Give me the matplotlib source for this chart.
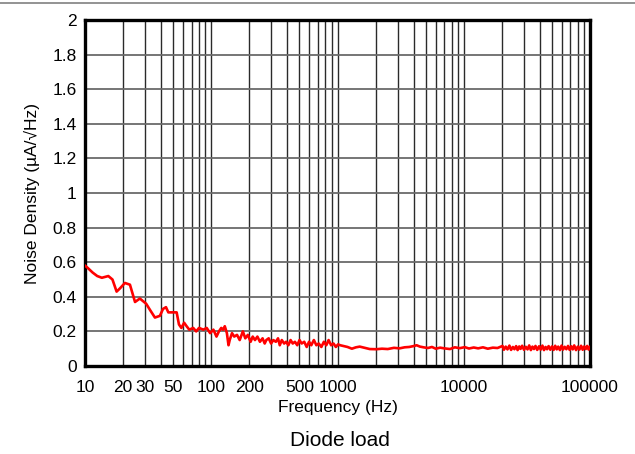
import numpy as np
import matplotlib
matplotlib.use("Agg")
import matplotlib.pyplot as plt
from matplotlib.lines import Line2D

plt.rcParams['font.family'] = ['Liberation Sans', 'DejaVu Sans']

# readings (Hz, uA/sqrt(Hz))
freq = [10, 10.4, 11.5, 12.5, 13.6, 15.3, 16.5, 17.8, 19.0, 20.7, 22.7, 24.9, 27.2, 30.5,
        33.0, 35.8, 39.2, 41.5, 43.8, 45.7, 50.0, 53.2, 55.5, 58.0, 61.0, 63.8, 67.0, 72.0,
        76.0, 80.0, 86.6, 92.0, 98.0, 104, 110, 115, 120, 124, 128, 133, 137, 140, 146,
        152, 160, 168, 178, 186, 195, 205, 213, 222, 232, 243, 255, 265, 273, 285, 298,
        310, 325, 338, 349, 362, 378, 392, 408, 425, 442, 460, 480, 500, 520, 545, 570,
        595, 620, 650, 680, 710, 745, 780, 815, 850, 890, 930, 970, 1010, 1050, 1120,
        1200, 1300, 1400, 1500, 1650, 1800, 2030, 2250, 2500, 2800, 3100, 3400, 3700,
        4000, 4230, 4500, 4800, 5200, 5600, 6000, 6500, 7000, 7770, 8500, 9300, 10200,
        11000, 12000, 13000, 14200, 15500, 17000, 18500, 20300, 20800, 21500, 22200,
        23000, 23700, 24500, 25200, 26000, 26700, 27500, 28200, 29000, 30000, 31000,
        32000, 33000, 34000, 35000, 36000, 37000, 38200, 39500, 40700, 42000, 43200,
        44500, 45700, 47000, 48500, 50000, 51500, 53000, 54500, 56000, 57800, 59500,
        61200, 63000, 65000, 67000, 69000, 71000, 73000, 75000, 77500, 80000, 82500,
        85000, 87500, 90000, 92500, 95000, 97500, 100000]
noise = [0.58, 0.57, 0.54, 0.52, 0.51, 0.52, 0.50, 0.43, 0.45, 0.48, 0.47, 0.37, 0.39, 0.36,
         0.32, 0.28, 0.29, 0.33, 0.34, 0.31, 0.31, 0.31, 0.24, 0.22, 0.25, 0.23, 0.21, 0.22,
         0.20, 0.22, 0.21, 0.22, 0.19, 0.21, 0.17, 0.20, 0.22, 0.21, 0.23, 0.19, 0.12, 0.15,
         0.19, 0.17, 0.18, 0.15, 0.20, 0.16, 0.18, 0.14, 0.17, 0.15, 0.17, 0.14, 0.16, 0.13,
         0.15, 0.16, 0.13, 0.15, 0.14, 0.16, 0.12, 0.15, 0.13, 0.14, 0.12, 0.15, 0.13, 0.14,
         0.12, 0.15, 0.13, 0.14, 0.11, 0.14, 0.12, 0.15, 0.12, 0.13, 0.11, 0.14, 0.12, 0.15,
         0.12, 0.13, 0.11, 0.125, 0.12, 0.115, 0.11, 0.10, 0.108, 0.112, 0.105, 0.098, 0.097,
         0.100, 0.098, 0.105, 0.102, 0.108, 0.110, 0.115, 0.120, 0.112, 0.108, 0.104, 0.110,
         0.100, 0.106, 0.102, 0.098, 0.108, 0.103, 0.109, 0.101, 0.107, 0.102, 0.108, 0.100,
         0.106, 0.104, 0.116, 0.094, 0.112, 0.096, 0.118, 0.093, 0.110, 0.097, 0.115, 0.092,
         0.113, 0.099, 0.117, 0.094, 0.111, 0.096, 0.119, 0.092, 0.112, 0.098, 0.116, 0.093,
         0.114, 0.095, 0.118, 0.092, 0.110, 0.097, 0.115, 0.094, 0.113, 0.093, 0.117, 0.096,
         0.112, 0.092, 0.118, 0.095, 0.111, 0.097, 0.116, 0.093, 0.114, 0.096, 0.119, 0.092,
         0.112, 0.095, 0.117, 0.094, 0.113, 0.098, 0.116, 0.095, 0.110]

xticks = [10, 20, 30, 50, 100, 200, 500, 1000, 10000, 100000]
xticklabels = ['10', '20', '30', '50', '100', '200', '500', '1000', '10000', '100000']
yticks = [0, 0.2, 0.4, 0.6, 0.8, 1, 1.2, 1.4, 1.6, 1.8, 2]
yticklabels = ['0', '0.2', '0.4', '0.6', '0.8', '1', '1.2', '1.4', '1.6', '1.8', '2']

fig = plt.figure(figsize=(6.35, 4.54), dpi=100)
ax = fig.add_axes([85 / 635, 88 / 454, 505 / 635, 346 / 454])

ax.plot(freq, noise, color='#ff0000', lw=1.9, zorder=3)

ax.set_xscale('log')
ax.set_xlim(10, 100000)
ax.set_ylim(0, 2)

# full log grid
grid_x = [m * 10 ** d for d in range(1, 5) for m in range(2, 10)] + [100, 1000, 10000]
for gx in grid_x:
    ax.axvline(gx, color='#2a2a2a', lw=1.0, zorder=1)
for gy in yticks[1:-1]:
    ax.axhline(gy, color='#6a6a6a', lw=1.3, zorder=1)

ax.set_xticks(xticks)
ax.set_xticklabels(xticklabels, fontsize=12.5)
ax.xaxis.set_minor_locator(matplotlib.ticker.NullLocator())
ax.set_yticks(yticks)
ax.set_yticklabels(yticklabels, fontsize=12.5)
ax.tick_params(axis='x', length=0, pad=10)
ax.tick_params(axis='y', length=0, pad=6)

for s in ax.spines.values():
    s.set_linewidth(2.4)
    s.set_color('black')

ax.set_xlabel('Frequency (Hz)', fontsize=12.5, labelpad=4)
ax.set_ylabel('Noise Density (\u00b5A/\u221aHz)', fontsize=12.5, labelpad=9)

fig.text(340 / 635, 1 - 440 / 454, 'Diode load', fontsize=15, ha='center', va='center')
fig.add_artist(Line2D([0, 1], [1 - 3 / 454, 1 - 3 / 454], color='#808080', lw=1.2,
                      transform=fig.transFigure))

fig.savefig('out.png', dpi=100)
